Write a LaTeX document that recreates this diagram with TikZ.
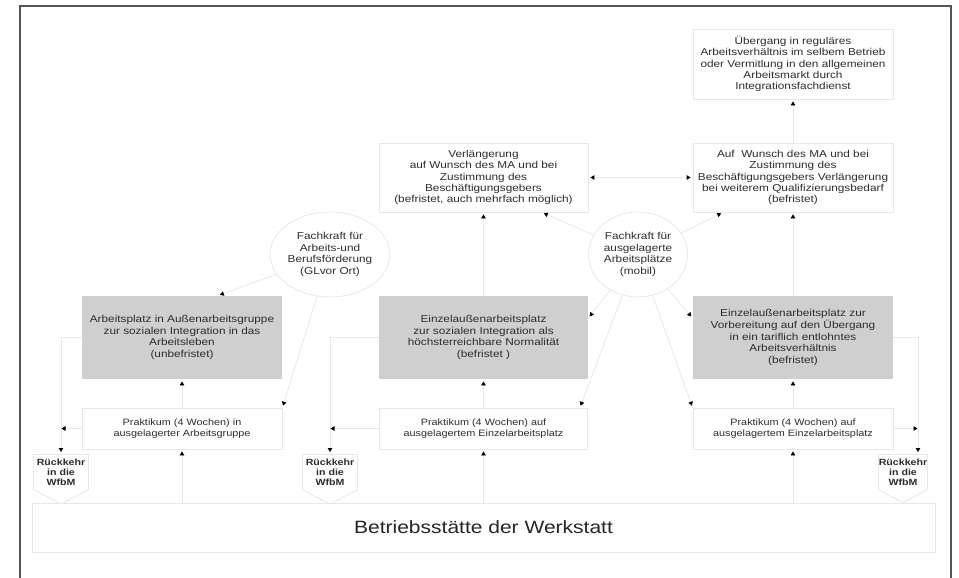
\documentclass[tikz,border=0pt]{standalone}
\usepackage{fontspec}
\setmainfont{Liberation Sans}[FakeStretch=1.18]
\usetikzlibrary{arrows.meta,shapes.geometric,shapes.symbols}
\definecolor{linegray}{RGB}{232,232,232}
\definecolor{boxgray}{RGB}{207,207,207}
\definecolor{framegray}{RGB}{85,85,85}
\definecolor{textgray}{RGB}{45,45,45}
\begin{document}
\begin{tikzpicture}[x=1pt,y=-1pt,
  >={Triangle[length=4pt,width=4.5pt,color=black]},
  box/.style={draw=linegray,line width=0.8pt,fill=white,align=center,inner sep=0pt,
    minimum width=200pt,minimum height=70pt,text=textgray,font=\fontsize{10}{11.4}\selectfont},
  grey box/.style={box,draw=none,fill=boxgray,minimum height=83pt,font=\fontsize{10}{11.7}\selectfont},
  prakt/.style={box,minimum height=41pt,font=\fontsize{9.2}{11.7}\selectfont},
  fachkraft/.style={ellipse,draw=linegray,line width=0.8pt,fill=white,align=center,inner sep=0pt,
    minimum width=99pt,minimum height=85pt,text=textgray,font=\fontsize{10}{11.8}\selectfont},
  rueck/.style={signal,signal to=south,signal pointer angle=124,draw=linegray,line width=0.8pt,
    fill=white,align=center,inner sep=0pt,minimum width=55pt,minimum height=48pt,
    text=textgray,font=\bfseries\fontsize{9}{10}\selectfont},
  conn/.style={draw=linegray,line width=0.8pt,shorten >=2pt,->}]
    \fill[white] (0,0) rectangle (959,578);
    \useasboundingbox (0,0) rectangle (959,578);
    \draw[framegray,line width=1.3pt] (20,578) -- (20,6) -- (951,6) -- (951,578);
    \node[box] (ueber) at (793,64) {\"Ubergang in regul\"ares\\Arbeitsverh\"altnis im selbem Betrieb\\oder Vermitlung in den allgemeinen\\Arbeitsmarkt durch\\Integrationsfachdienst};
    \node[box,minimum height=69pt] (wunsch) at (793,177.5) {Auf\ \ Wunsch des MA und bei\\Zustimmung des\\Besch\"aftigungsgebers Verl\"angerung\\bei weiterem Qualifizierungsbedarf\\(befristet)};
    \node[box,minimum width=209pt,minimum height=69pt] (verl) at (483.5,177.5) {Verl\"angerung\\auf Wunsch des MA und bei\\Zustimmung des\\Besch\"aftigungsgebers\\(befristet, auch mehrfach m\"oglich)};
    \node[fachkraft] (fk1) at (330,254.5) {Fachkraft f\"ur\\Arbeits-und\\Berufsf\"orderung\\(GLvor Ort)};
    \node[fachkraft] (fk2) at (638,254.5) {Fachkraft f\"ur\\ausgelagerte\\Arbeitspl\"atze\\(mobil)};
    \node[grey box] (arb1) at (182,337.5) {Arbeitsplatz in Au\ss enarbeitsgruppe\\zur sozialen Integration in das\\Arbeitsleben\\(unbefristet)};
    \node[grey box,minimum width=209pt] (arb2) at (483.5,337.5) {Einzelau\ss enarbeitsplatz\\zur sozialen Integration als\\h\"ochsterreichbare Normalit\"at\\(befristet )};
    \node[grey box] (arb3) at (793,337.5) {Einzelau\ss enarbeitsplatz zur\\Vorbereitung auf den \"Ubergang\\in ein tariflich entlohntes\\Arbeitsverh\"altnis\\(befristet)};
    \node[prakt] (prak1) at (182,428.5) {Praktikum (4 Wochen) in\\ausgelagerter Arbeitsgruppe};
    \node[prakt,minimum width=208pt] (prak2) at (483.5,428.5) {Praktikum (4 Wochen) auf\\ausgelagertem Einzelarbeitsplatz};
    \node[prakt] (prak3) at (793,428.5) {Praktikum (4 Wochen) auf\\ausgelagertem Einzelarbeitsplatz};
    \node[rueck] (rueck1) at (61,472) {R\"uckkehr\\in die\\WfbM};
    \node[rueck] (rueck2) at (330,472) {R\"uckkehr\\in die\\WfbM};
    \node[rueck,minimum width=49pt] (rueck3) at (903,472) {R\"uckkehr\\in die\\WfbM};
    \node[box,minimum width=903pt,minimum height=49pt,text=black!85,font=\fontsize{17.8}{20}\selectfont] (werk) at (483.5,527.5) {Betriebsst\"atte der Werkstatt};
    \coordinate (r3) at ([xshift=15pt]rueck3.north);
    \draw[conn] (werk.north -| prak1) -- (prak1);
    \draw[conn] (prak1) -- (arb1);
    \draw[conn] (werk.north -| prak2) -- (prak2);
    \draw[conn] (prak2) -- (arb2);
    \draw[conn] (arb2) -- (verl);
    \draw[conn] (werk.north -| prak3) -- (prak3);
    \draw[conn] (prak3) -- (arb3);
    \draw[conn] (arb3) -- (wunsch);
    \draw[conn] (wunsch) -- (ueber);
    \draw[conn,<->,shorten <=2pt] (verl) -- (wunsch);
    \draw[conn] (arb1.west) -| (rueck1.north);
    \draw[conn,shorten >=0.5pt] (prak1.west) -- (prak1.west -| rueck1.north);
    \draw[conn] (arb2.west) -| (rueck2.north);
    \draw[conn,shorten >=0.5pt] (prak2.west) -- (prak2.west -| rueck2.north);
    \draw[conn] (arb3.east) -| (r3);
    \draw[conn,shorten >=0.5pt] (prak3.east) -- (prak3.east -| r3);
    \draw[conn] (fk1) -- ([xshift=36pt]arb1.north);
    \draw[conn] (fk1) -- (prak1.north east);
    \draw[conn] (fk2) -- ([xshift=58.5pt]verl.south);
    \draw[conn] (fk2) -- ([xshift=-70pt]wunsch.south);
    \draw[conn] (fk2) -- ([yshift=19.5pt]arb2.east);
    \draw[conn] (fk2) -- ([yshift=19.5pt]arb3.west);
    \draw[conn] (fk2) -- ([xshift=-8pt]prak2.north east);
    \draw[conn] (fk2) -- (prak3.north west);
\end{tikzpicture}
\end{document}
